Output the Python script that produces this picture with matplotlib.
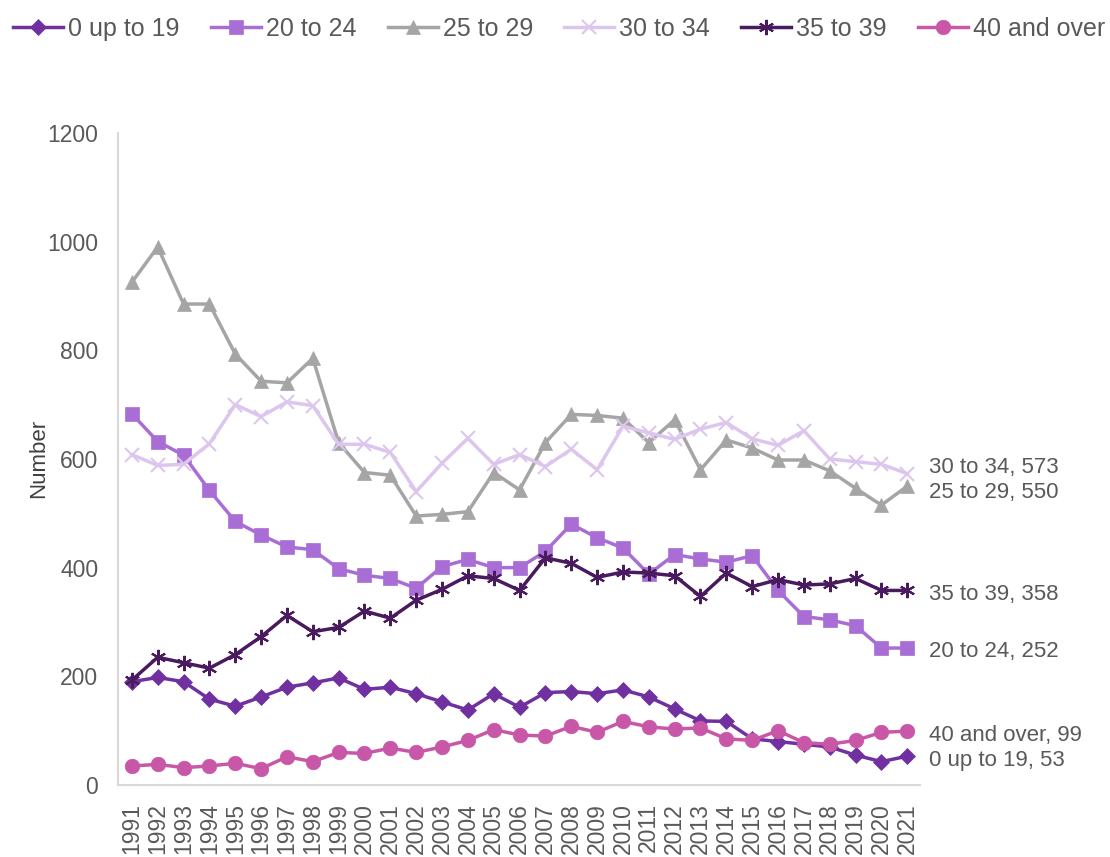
import matplotlib
matplotlib.use("Agg")
import matplotlib.pyplot as plt

plt.rcParams['font.family'] = ['Liberation Sans', 'DejaVu Sans']

years = list(range(1991, 2022))

s_0_19 = [190, 198, 190, 158, 145, 162, 180, 188, 197, 176, 180, 168, 153, 138, 168, 143,
          170, 172, 168, 175, 162, 140, 118, 117, 85, 80, 75, 70, 55, 43, 53]
s_20_24 = [683, 632, 607, 542, 485, 460, 438, 433, 398, 386, 380, 362, 402, 415, 400, 400,
           430, 480, 455, 436, 388, 424, 416, 410, 422, 358, 310, 304, 293, 252, 252]
s_25_29 = [925, 990, 885, 885, 793, 743, 740, 785, 630, 575, 570, 495, 498, 503, 575, 543,
           630, 682, 680, 675, 630, 672, 580, 635, 620, 598, 598, 578, 546, 515, 550]
s_30_34 = [608, 588, 590, 628, 700, 678, 705, 698, 627, 627, 612, 540, 592, 638, 590, 608,
           586, 618, 580, 660, 648, 636, 655, 667, 637, 625, 652, 600, 595, 590, 573]
s_35_39 = [193, 235, 225, 215, 240, 273, 312, 282, 290, 320, 307, 340, 360, 385, 380, 358,
           418, 408, 382, 392, 390, 385, 347, 390, 365, 378, 368, 370, 380, 358, 358]
s_40 = [35, 38, 32, 35, 40, 30, 52, 43, 60, 58, 68, 60, 70, 82, 102, 92,
        90, 108, 97, 117, 107, 103, 105, 85, 82, 100, 78, 75, 82, 97, 99]

series = [
    ("0 up to 19", s_0_19, "#7030A0", "D", 8),
    ("20 to 24", s_20_24, "#A86ED6", "s", 10.5),
    ("25 to 29", s_25_29, "#A5A5A5", "^", 10.5),
    ("30 to 34", s_30_34, "#DCC6EE", "x", 10),
    ("35 to 39", s_35_39, "#4A1A5E", (6, 2, 0), 11),
    ("40 and over", s_40, "#C857A8", "o", 10.5),
]

fig = plt.figure(figsize=(11.1, 8.57), dpi=100)
ax = fig.add_axes([0.106, 0.084, 0.723, 0.761])

handles = []
for name, vals, col, mk, ms in series:
    h, = ax.plot(years, vals, color=col, marker=mk, markersize=ms, linewidth=2.5,
                 markeredgewidth=1.5 if mk in ("x", (6, 2, 0)) else 0.5,
                 markeredgecolor=col, markerfacecolor=col, label=name)
    handles.append(h)

ax.set_xlim(1990.45, 2021.5)
ax.set_ylim(0, 1200)
ax.set_yticks(range(0, 1201, 200))
ax.set_xticks(years)
ax.set_xticklabels([str(y) for y in years], rotation=90, va='top')
ax.tick_params(axis='both', length=0, labelsize=16.5, labelcolor='#595959')
ax.tick_params(axis='y', pad=14)
ax.tick_params(axis='x', pad=13)
for sp in ['top', 'right']:
    ax.spines[sp].set_visible(False)
for sp in ['left', 'bottom']:
    ax.spines[sp].set_color('#D9D9D9')
    ax.spines[sp].set_linewidth(1.5)

ax.set_ylabel("Number", fontsize=16, color='#404040', labelpad=12)
ax.yaxis.set_label_coords(-0.085, 0.5)

# end labels (baseline offsets in points)
end_offsets = {"30 to 34": 0.6, "25 to 29": -8.6}
for name, vals, col, mk, ms in series:
    off = end_offsets.get(name, -6.8)
    ax.annotate(f"{name}, {vals[-1]}", xy=(years[-1], vals[-1]), xytext=(16, off),
                textcoords='offset points', fontsize=16.0, color='#595959', va='baseline',
                ha='left', annotation_clip=False)

fig.legend(handles=handles, loc='center left', bbox_to_anchor=(0.003, 0.966), ncol=6,
           frameon=False, fontsize=18, handlelength=2.0, handletextpad=0.2,
           columnspacing=1.25, labelcolor='#595959', borderaxespad=0.0)

fig.savefig("out.png", dpi=100)
